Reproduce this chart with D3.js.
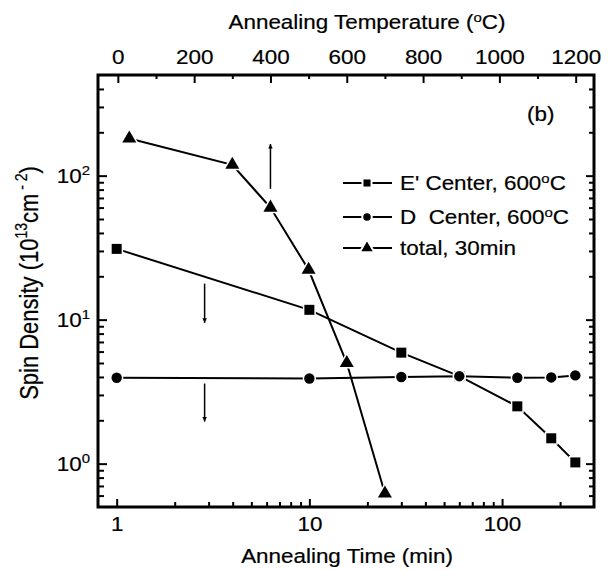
<!DOCTYPE html>
<html><head><meta charset="utf-8">
<script src="https://cdn.jsdelivr.net/npm/d3@7"></script>
<style>
body{margin:0;background:#fff}
text{font-family:"Liberation Sans",Arial,Helvetica,sans-serif;fill:#000;stroke:#000;stroke-width:0.2px;white-space:pre}
</style>
</head><body>
<svg id="c" width="610" height="570"></svg>
<script>
// ---- data ----
const times = [1, 10, 30, 60, 120, 180, 240];
const ePrime = [31, 11.7, 5.9, 4.05, 2.5, 1.5, 1.02];
const dCenter = [3.95, 3.9, 4.0, 4.05, 3.95, 3.97, 4.1];
const temps = [30, 300, 400, 500, 600, 700];
const total = [181, 119, 60, 22.2, 5.0, 0.62];
const timeTicks = [1, 10, 100];
const tempTicks = [0, 200, 400, 600, 800, 1000, 1200];
const tempMinor = [100, 300, 500, 700, 900, 1100];
const densityTicks = [1, 10, 100];
const densityExp = ["0", "1", "2"];
const legendNames = ["E' Center, 600", "D  Center, 600", "total, 30min"];
const legendDegree = [true, true, false];
// arrow annotations (value coordinates)
const upArrowTemp = [400], upArrowFrom = [81], upArrowTo = [166];
const downArrowTime = [2.86, 2.86], downArrowFrom = [17.8, 3.6], downArrowTo = [9.5, 1.96];

// ---- layout ----
const svg = d3.select("#c");
const L = 98, R = 594, T = 75, B = 507;
const FS = 19.5, SX = 1.15;
const x = d3.scaleLog().domain([0.8, 300]).range([L, R]);
const xT = d3.scaleLinear().domain([-52, 1248]).range([L, R]);
const y = d3.scaleLog().domain([0.5, 500]).range([B, T]);

function styleTicks(g, w) {
  g.select(".domain").remove();
  g.selectAll(".tick line").attr("stroke", "#000").attr("stroke-width", w || 2);
}

// bottom axis
const xMinor = x.ticks().filter(v => v > 0.99 && v < 201 && !timeTicks.some(t => Math.abs(t - v) < 1e-6));
svg.append("g").attr("transform", `translate(0,${B})`)
  .call(d3.axisBottom(x).tickValues(xMinor).tickSize(-5).tickFormat(""))
  .call(g => styleTicks(g));
const gxb = svg.append("g").attr("transform", `translate(0,${B})`)
  .call(d3.axisBottom(x).tickValues(timeTicks).tickSize(-8).tickFormat(d3.format("d")))
  .call(g => styleTicks(g));
gxb.selectAll("text").attr("y", null).attr("dy", null).attr("font-size", FS)
  .attr("font-family", null)
  .attr("transform", `translate(0,24) scale(${SX},1)`);

// top axis
svg.append("g").attr("transform", `translate(0,${T})`)
  .call(d3.axisTop(xT).tickValues(tempMinor).tickSize(-4).tickFormat(""))
  .call(g => styleTicks(g));
const gxt = svg.append("g").attr("transform", `translate(0,${T})`)
  .call(d3.axisTop(xT).tickValues(tempTicks).tickSize(-8).tickFormat(d3.format("d")))
  .call(g => styleTicks(g));
gxt.selectAll("text").attr("y", null).attr("dy", null).attr("font-size", FS)
  .attr("font-family", null)
  .attr("transform", `translate(0,-11) scale(${SX},1)`);

// left & right axes
const yMinor = y.ticks().filter(v => v > 0.51 && v < 499 && !densityTicks.some(t => Math.abs(t - v) < 1e-6));
svg.append("g").attr("transform", `translate(${L},0)`)
  .call(d3.axisLeft(y).tickValues(yMinor).tickSize(-6).tickFormat(""))
  .call(g => styleTicks(g));
const gyl = svg.append("g").attr("transform", `translate(${L},0)`)
  .call(d3.axisLeft(y).tickValues(densityTicks).tickSize(-9).tickFormat(""))
  .call(g => styleTicks(g));
gyl.selectAll(".tick").each(function(d, i) {
  const t = d3.select(this).select("text");
  t.attr("x", null).attr("dy", null).attr("font-size", FS).attr("font-family", null)
    .attr("text-anchor", "end")
    .attr("transform", `translate(-8,7) scale(${SX},1)`);
  t.append("tspan").text("10");
  t.append("tspan").attr("font-size", 13).attr("dy", -8).text(densityExp[i]);
});
svg.append("g").attr("transform", `translate(${R},0)`)
  .call(d3.axisRight(y).tickValues(yMinor).tickSize(-5).tickFormat(""))
  .call(g => styleTicks(g));
svg.append("g").attr("transform", `translate(${R},0)`)
  .call(d3.axisRight(y).tickValues(densityTicks).tickSize(-8).tickFormat(""))
  .call(g => styleTicks(g));

// frame
svg.append("rect").attr("x", L).attr("y", T).attr("width", R - L).attr("height", B - T)
  .attr("fill", "none").attr("stroke", "#000").attr("stroke-width", 3);

// axis titles
function degText(sel, before, after) {
  sel.append("tspan").text(before);
  sel.append("tspan").attr("font-size", 13).attr("dy", -7).text("o");
  sel.append("tspan").attr("dy", 7).text(after);
}
svg.append("text").attr("text-anchor", "middle").attr("font-size", FS)
  .attr("transform", `translate(347,563) scale(${SX},1)`).text("Annealing Time (min)");
degText(svg.append("text").attr("text-anchor", "middle").attr("font-size", FS)
  .attr("transform", `translate(367,29) scale(${SX},1)`), "Annealing Temperature (", "C)");
const yt = svg.append("text").attr("text-anchor", "middle").attr("font-size", 22)
  .attr("transform", `translate(38,283) scale(${SX},1) rotate(-90)`);
yt.append("tspan").text("Spin Density (10");
yt.append("tspan").attr("font-size", 14).attr("dy", -10).text("13");
yt.append("tspan").attr("dy", 10).text("cm");
yt.append("tspan").attr("font-size", 14).attr("dy", -10).text(" - 2");
yt.append("tspan").attr("dy", 10).text(")");

// panel label
svg.append("text").attr("font-size", FS).attr("transform", `translate(527,121) scale(${SX},1)`).text("(b)");

// arrows
const defs = svg.append("defs");
defs.append("marker").attr("id", "ah").attr("viewBox", "0 0 10 10").attr("refX", 10).attr("refY", 5)
  .attr("markerWidth", 8).attr("markerHeight", 4.5).attr("markerUnits", "userSpaceOnUse")
  .attr("orient", "auto").append("path").attr("d", "M0,0L10,5L0,10Z").attr("fill", "#000");
upArrowTemp.forEach((t, i) => {
  svg.append("line").attr("x1", xT(t)).attr("x2", xT(t)).attr("y1", y(upArrowFrom[i])).attr("y2", y(upArrowTo[i]))
    .attr("stroke", "#000").attr("stroke-width", 1.5).attr("marker-end", "url(#ah)");
});
downArrowTime.forEach((t, i) => {
  svg.append("line").attr("x1", x(t)).attr("x2", x(t)).attr("y1", y(downArrowFrom[i])).attr("y2", y(downArrowTo[i]))
    .attr("stroke", "#000").attr("stroke-width", 1.5).attr("marker-end", "url(#ah)");
});

// series
const tri = d3.symbolTriangle;
function series(xs, ys, xs_scale) {
  const pts = xs.map((v, i) => [xs_scale(v), y(ys[i])]);
  svg.append("path").attr("d", d3.line()(pts)).attr("fill", "none")
    .attr("stroke", "#000").attr("stroke-width", 2);
  return pts;
}
function markers(pts, sym, size) {
  svg.append("g").selectAll("path").data(pts).join("path")
    .attr("transform", d => `translate(${d[0]},${d[1]})`)
    .attr("d", d3.symbol(sym, size)())
    .attr("fill", "#000").attr("stroke", "#fff").attr("stroke-width", 3).style("paint-order", "stroke");
}
const pE = series(times, ePrime, x);
const pD = series(times, dCenter, x);
const pT = series(temps, total, xT);
markers(pE, d3.symbolSquare, 100);
markers(pD, d3.symbolCircle, 85);
markers(pT, tri, 85);

// legend
const legY = [183, 217, 248];
const legSym = [d3.symbolSquare, d3.symbolCircle, tri];
const legSize = [50, 45, 55];
legendNames.forEach((name, i) => {
  const g = svg.append("g").attr("transform", `translate(0,${legY[i]})`);
  g.append("line").attr("x1", 343).attr("x2", 392).attr("y1", 0).attr("y2", 0)
    .attr("stroke", "#000").attr("stroke-width", 2);
  g.append("path").attr("transform", "translate(367,0)").attr("d", d3.symbol(legSym[i], legSize[i])())
    .attr("fill", "#000").attr("stroke", "#fff").attr("stroke-width", 4).style("paint-order", "stroke");
  const t = g.append("text").attr("font-size", FS).attr("transform", `translate(400,7) scale(${SX},1)`);
  if (legendDegree[i]) degText(t, name, "C"); else t.text(name);
});
</script>
</body></html>
